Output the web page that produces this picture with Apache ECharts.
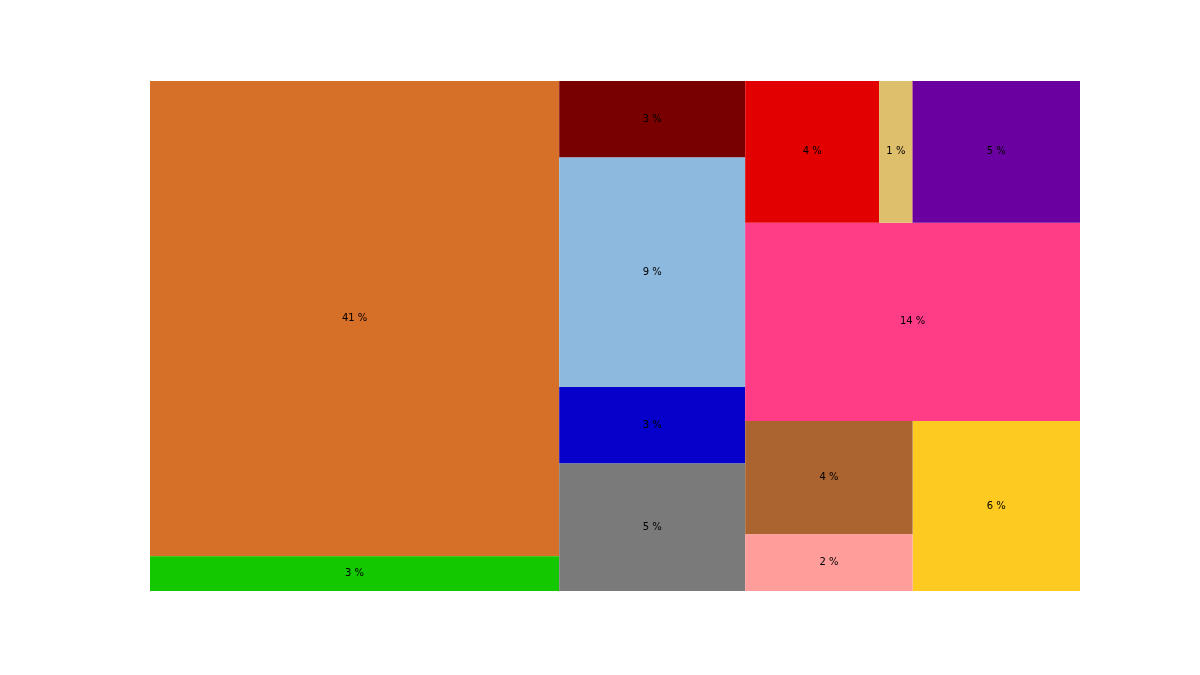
<!DOCTYPE html>
<html>
<head>
<meta charset="utf-8">
<script src="https://cdn.jsdelivr.net/npm/echarts@6/dist/echarts.min.js"></script>
<style>
  html, body { margin: 0; padding: 0; background: #ffffff; }
  #chart { width: 1200px; height: 675px; }
</style>
</head>
<body>
<div id="chart"></div>
<script>
// ---- data ----
const categories = ['A', 'B', 'C', 'D', 'E', 'F', 'G', 'H', 'I', 'J', 'K', 'L', 'M'];
const values     = [41, 3, 3, 4, 1, 5, 9, 14, 3, 4, 2, 5, 6];
const colors     = ['#D66F27', '#14C800', '#780000', '#E20000', '#DEBF6C', '#6A00A0',
                    '#8EB9DF', '#FF3C86', '#0700CB', '#AB6330', '#FF9D9B', '#7A7A7A', '#FDCA22'];

// grouping of the cells (indices into the arrays above)
const groupLeft      = [0, 1];
const groupMidStack  = [2, 6, 8, 11];
const groupTopRow    = [3, 4, 5];
const groupMiddle    = 7;
const groupLowRow    = [9, 10];
const groupBottom    = 12;

const total = values.reduce((a, b) => a + b, 0);

function leaf(i) {
  return { name: categories[i], value: values[i], itemStyle: { color: colors[i] } };
}
// group background (seen only through sub-pixel seams) takes a neighbour's colour
function group(name, children, seamColorIndex) {
  return { name: name, children: children,
           itemStyle: { borderColor: colors[seamColorIndex], borderWidth: 0 } };
}

const treeData = [
  group('left', groupLeft.map(leaf), 0),
  group('right', [
    group('mid', groupMidStack.map(leaf), 6),
    group('side', [
      group('top', groupTopRow.map(leaf), 3),
      leaf(groupMiddle),
      group('low', [group('lowRow', groupLowRow.map(leaf), 9), leaf(groupBottom)], 12)
    ], 7)
  ], 7)
];

const chart = echarts.init(document.getElementById('chart'), null, { renderer: 'canvas' });
chart.setOption({
  animation: false,
  backgroundColor: '#ffffff',
  series: [{
    type: 'treemap',
    left: 150,
    top: 81,
    width: 930,
    height: 510,
    sort: false,
    squareRatio: 1,
    roam: false,
    nodeClick: false,
    breadcrumb: { show: false },
    visibleMin: 0,
    itemStyle: { borderWidth: 0, gapWidth: 0, borderColor: '#ffffff' },
    upperLabel: { show: false },
    emphasis: { disabled: true },
    label: {
      show: true,
      position: 'inside',
      color: '#000000',
      fontFamily: 'DejaVu Sans',
      fontSize: 10,
      formatter: function (p) {
        return Math.round(p.value / total * 100) + ' %';
      }
    },
    data: treeData
  }]
});
</script>
</body>
</html>
